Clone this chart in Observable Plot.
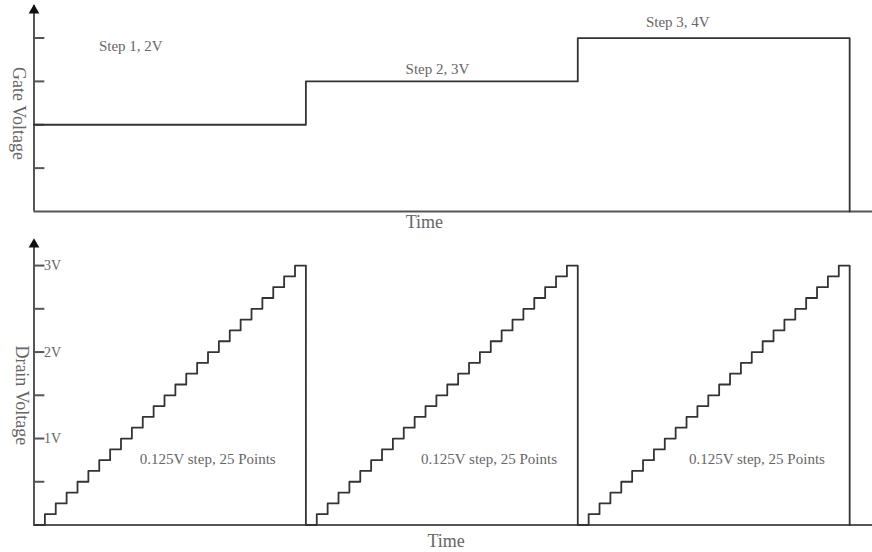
<!DOCTYPE html>
<html>
<head>
<meta charset="utf-8">
<script src="https://cdn.jsdelivr.net/npm/d3@7"></script>
<script src="https://cdn.jsdelivr.net/npm/@observablehq/plot@0.6"></script>
<style>
  html, body { margin: 0; padding: 0; background: #fff; }
  #chart svg { display: block; }
</style>
</head>
<body>
<div id="chart"></div>
<script>
// ---- data ----
const gateSteps = ["Step 1", "Step 2", "Step 3"];
const gateVolts = [2, 3, 4];
const stepLabels = ["Step 1, 2V", "Step 2, 3V", "Step 3, 4V"];
const stepLabelT = [8.9, 37.1, 59.2];
const stepLabelV = [3.81, 3.27, 4.36];

const drainLevels = [0, 0.125, 0.25, 0.375, 0.5, 0.625, 0.75, 0.875, 1.0,
  1.125, 1.25, 1.375, 1.5, 1.625, 1.75, 1.875, 2.0, 2.125, 2.25, 2.375,
  2.5, 2.625, 2.75, 2.875, 3.0];
const rampLabel = "0.125V step, 25 Points";
const rampLabelT = [15.97, 41.84, 66.47];
const rampLabelV = 0.757;

const gateTicks = [1, 2, 3, 4];
const drainTicks = [0.5, 1, 1.5, 2, 2.5, 3];
const drainTickLabelValues = [1, 2, 3];
const drainTickLabels = ["1V", "2V", "3V"];

// ---- derived tables ----
const N = drainLevels.length; // points per sweep
const cycles = gateVolts.length;
const tEnd = cycles * N;
const gateLine = gateVolts.map((v, k) => ({t: k * N, v})).concat([{t: tEnd, v: 0}]);
const drainLine = [];
for (let k = 0; k < cycles; k++) drainLevels.forEach((v, i) => drainLine.push({t: k * N + i, v}));
drainLine.push({t: tEnd, v: 0});

const FONT = "Liberation Serif, Times New Roman, serif";
const LINE = "#333";
const AXIS = "#555";
const TEXT = "#666";
const xDomain = [0, 77.1];

const common = {
  width: 872,
  marginLeft: 33.5,
  marginRight: 0,
  style: {fontFamily: FONT, background: "#fff", overflow: "visible"}
};

// ---- top: gate voltage ----
const gMax = 4.75;
const gatePlot = Plot.plot({
  ...common,
  height: 235,
  marginTop: 5,
  marginBottom: 24,
  x: {domain: xDomain, axis: null},
  y: {domain: [0, gMax], axis: null},
  marks: [
    Plot.ruleX([0], {y1: 0, y2: gMax, stroke: AXIS, strokeWidth: 2}),
    Plot.ruleY([0], {x1: 0, x2: xDomain[1], stroke: AXIS, strokeWidth: 2}),
    Plot.ruleY(gateTicks, {y: d => d, x1: 0, x2: 1, stroke: AXIS, strokeWidth: 2}),
    Plot.dot([gMax], {x: 0, y: d => d, symbol: "triangle", r: 4, fill: "#111", dy: 5}),
    Plot.line(gateLine, {x: "t", y: "v", curve: "step-after", stroke: LINE, strokeWidth: 1.8}),
    Plot.text(stepLabels, {x: (d, i) => stepLabelT[i], y: (d, i) => stepLabelV[i], text: d => d,
      fill: TEXT, fontSize: 15, fontFamily: FONT}),
    Plot.text(["Time"], {x: 35.9, y: 0, dy: 11, text: d => d, fill: TEXT, fontSize: 18, fontFamily: FONT}),
    Plot.text(["Gate Voltage"], {x: 0, y: 2.26, dx: -15, rotate: 90, text: d => d, fill: TEXT, fontSize: 18, fontFamily: FONT})
  ]
});

// ---- bottom: drain voltage ----
const dMax = 3.29;
const drainPlot = Plot.plot({
  ...common,
  height: 317,
  marginTop: 5,
  marginBottom: 27.5,
  x: {domain: xDomain, axis: null},
  y: {domain: [0, dMax], axis: null},
  marks: [
    Plot.ruleX([0], {y1: 0, y2: dMax, stroke: AXIS, strokeWidth: 2}),
    Plot.ruleY([0], {x1: 0, x2: xDomain[1], stroke: AXIS, strokeWidth: 2}),
    Plot.ruleY(drainTicks, {y: d => d, x1: 0, x2: 1, stroke: AXIS, strokeWidth: 2}),
    Plot.text(drainTickLabels, {x: 0, y: (d, i) => drainTickLabelValues[i], dx: 10, textAnchor: "start",
      text: d => d, fill: TEXT, fontSize: 14, fontFamily: FONT}),
    Plot.dot([dMax], {x: 0, y: d => d, symbol: "triangle", r: 4, fill: "#111", dy: 4}),
    Plot.line(drainLine, {x: "t", y: "v", curve: "step-after", stroke: LINE, strokeWidth: 1.8}),
    Plot.text(rampLabelT, {x: d => d, y: rampLabelV, text: () => rampLabel, fill: TEXT, fontSize: 15, fontFamily: FONT}),
    Plot.text(["Time"], {x: 37.9, y: 0, dy: 16, text: d => d, fill: TEXT, fontSize: 18, fontFamily: FONT}),
    Plot.text(["Drain Voltage"], {x: 0, y: 1.5, dx: -12, rotate: 90, text: d => d, fill: TEXT, fontSize: 18, fontFamily: FONT})
  ]
});

document.getElementById("chart").append(gatePlot, drainPlot);
</script>
</body>
</html>
